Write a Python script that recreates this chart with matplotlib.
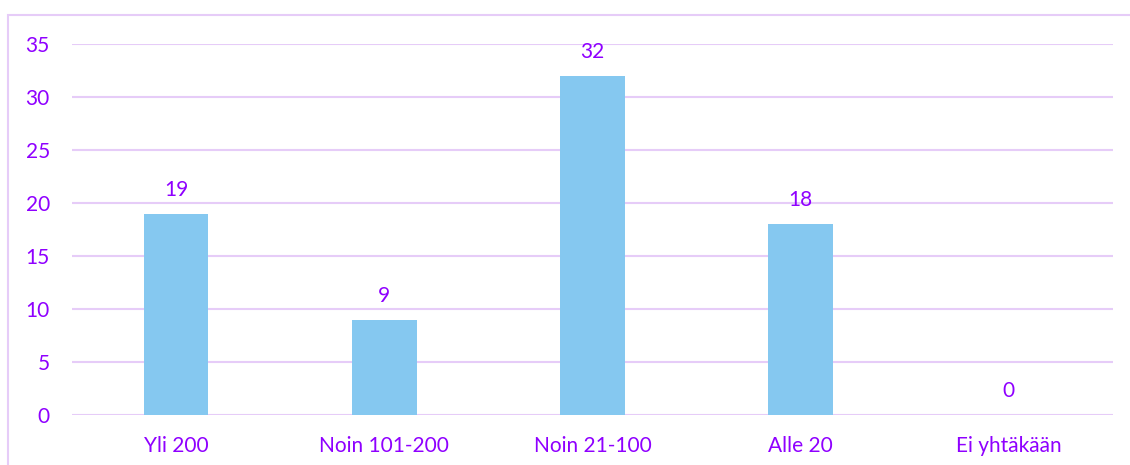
import matplotlib.pyplot as plt
from matplotlib.patches import Rectangle

categories = ['Yli 200', 'Noin 101-200', 'Noin 21-100', 'Alle 20', 'Ei yhtäkään']
values = [19, 9, 32, 18, 0]
yticks = [0, 5, 10, 15, 20, 25, 30, 35]

text_color = '#8F00FF'
grid_color = '#E6CCF8'
bar_color = '#85C8F0'

plt.rcParams['font.family'] = ['Lato', 'DejaVu Sans']

fig = plt.figure(figsize=(11.3, 4.65), dpi=100)
ax = fig.add_axes([72 / 1130, 1 - 415 / 465, (1113 - 72) / 1130, (415 - 44) / 465])

# outer frame, only left and top visible in the original
fig.patches.append(Rectangle((8 / 1130, -0.5), 2, 0.5 + 1 - 15 / 465,
                             transform=fig.transFigure, fill=False,
                             edgecolor=grid_color, linewidth=1.5))

x = range(len(categories))
ax.bar(x, values, width=0.31, color=bar_color, zorder=2)

for xi, v in zip(x, values):
    ax.annotate(str(v), (xi, v), xytext=(0, 10), textcoords='offset points',
                ha='center', va='bottom', color=text_color, fontsize=15)

ax.set_xlim(-0.5, len(categories) - 0.5)
ax.set_ylim(0, 35)
ax.set_yticks(yticks)
ax.set_xticks(list(x))
ax.set_xticklabels(categories)
ax.yaxis.grid(True, color=grid_color, linewidth=1.5, zorder=0)
ax.set_axisbelow(True)
for s in ax.spines.values():
    s.set_visible(False)
ax.tick_params(axis='both', length=0, colors=text_color, labelsize=15)
ax.tick_params(axis='y', pad=16)
ax.tick_params(axis='x', pad=15)

fig.savefig('out.png', dpi=100)
